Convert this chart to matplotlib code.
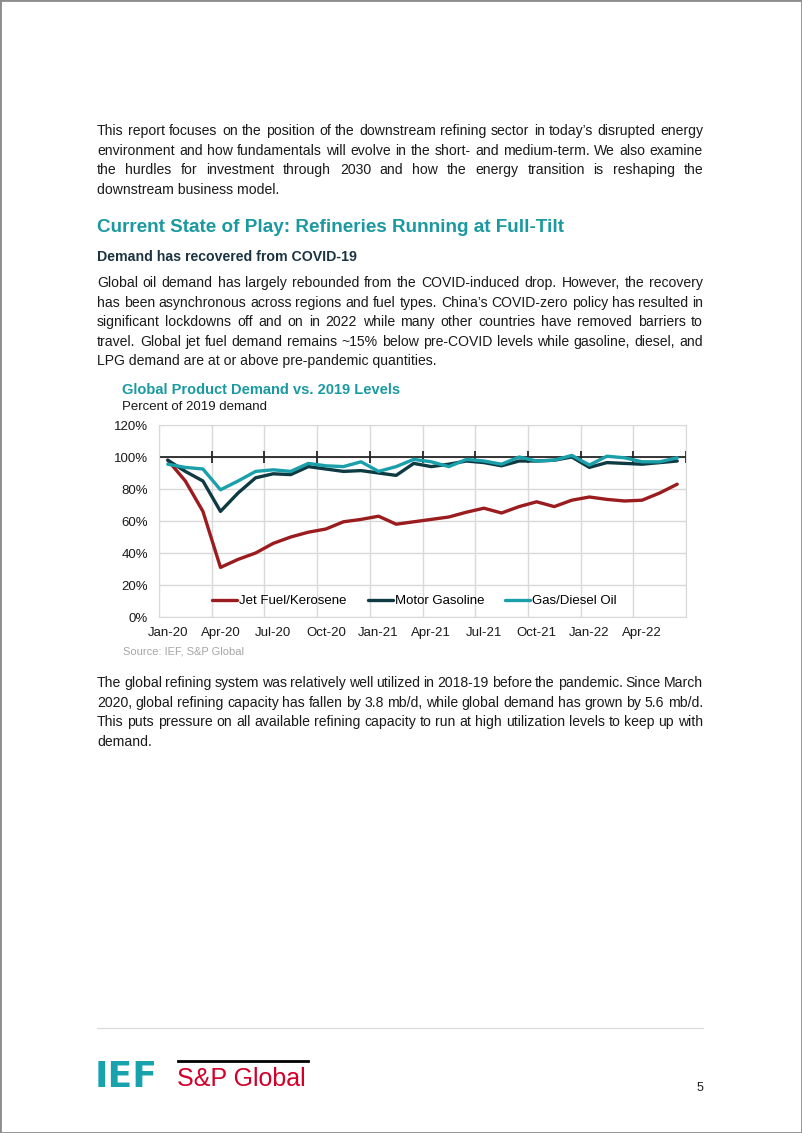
import matplotlib
matplotlib.use('Agg')
import matplotlib.pyplot as plt
import numpy as np
from matplotlib.lines import Line2D
from matplotlib.patches import Rectangle

W, H = 802, 1133
plt.rcParams['font.family'] = ['Liberation Sans', 'DejaVu Sans']

# monthly data, Jan-20 .. Jun-22 (percent of 2019 demand)
months = ['Jan-20', 'Feb-20', 'Mar-20', 'Apr-20', 'May-20', 'Jun-20',
          'Jul-20', 'Aug-20', 'Sep-20', 'Oct-20', 'Nov-20', 'Dec-20',
          'Jan-21', 'Feb-21', 'Mar-21', 'Apr-21', 'May-21', 'Jun-21',
          'Jul-21', 'Aug-21', 'Sep-21', 'Oct-21', 'Nov-21', 'Dec-21',
          'Jan-22', 'Feb-22', 'Mar-22', 'Apr-22', 'May-22', 'Jun-22']
jet = [98, 85, 66, 31, 36, 40, 46, 50, 53, 55, 59.5, 61, 63, 58, 59.5,
       61, 62.5, 65.5, 68, 65, 69, 72, 69, 73, 75, 73.5, 72.5, 73, 77.5, 83]
gasoline = [98, 91, 85, 66, 77.5, 87, 89.5, 89, 94, 92.5, 91, 91.5, 90, 88.5,
            96, 94, 95.5, 97.5, 96.5, 94.5, 97.5, 97.5, 98, 100, 93.5, 96.5,
            96, 95.5, 96.5, 97.5]
diesel = [95.5, 93.5, 92.5, 79.5, 85, 91, 92, 91, 96, 94.5, 94, 97, 91, 94,
          98.5, 97, 94, 98.5, 97.5, 95.5, 100, 97.5, 98, 101, 95, 100.5, 99.5,
          97, 97, 99.5]
series_names = ['Jet Fuel/Kerosene', 'Motor Gasoline', 'Gas/Diesel Oil']
series_colors = ['#9B1C1F', '#0E3A42', '#1AA0AB']

para1 = ["This report focuses on the position of the downstream refining sector in today\u2019s disrupted energy",
         "environment and how fundamentals will evolve in the short- and medium-term. We also examine",
         "the hurdles for investment through 2030 and how the energy transition is reshaping the",
         "downstream business model."]
para2 = ["Global oil demand has largely rebounded from the COVID-induced drop. However, the recovery",
         "has been asynchronous across regions and fuel types. China\u2019s COVID-zero policy has resulted in",
         "significant lockdowns off and on in 2022 while many other countries have removed barriers to",
         "travel. Global jet fuel demand remains ~15% below pre-COVID levels while gasoline, diesel, and",
         "LPG demand are at or above pre-pandemic quantities."]
para3 = ["The global refining system was relatively well utilized in 2018-19 before the pandemic. Since March",
         "2020, global refining capacity has fallen by 3.8 mb/d, while global demand has grown by 5.6 mb/d.",
         "This puts pressure on all available refining capacity to run at high utilization levels to keep up with",
         "demand."]

fig = plt.figure(figsize=(W / 100, H / 100), dpi=100)
renderer = fig.canvas.get_renderer()


def fx(x):
    return x / W


def fy(y):
    return 1 - y / H


BODY = 10.1
TXT = '#1a1a1a'


def justify(lines, y0, step=19.6, left=97, right=703):
    for i, line in enumerate(lines):
        y = fy(y0 + i * step)
        if i == len(lines) - 1:
            fig.text(fx(left), y, line, fontsize=BODY, color=TXT, va='center')
            continue
        words = line.split(' ')
        widths = []
        for w in words:
            t = fig.text(0, 0, w, fontsize=BODY)
            widths.append(t.get_window_extent(renderer).width)
            t.remove()
        gap = (right - left - sum(widths)) / (len(words) - 1)
        x = left
        for w, wd in zip(words, widths):
            fig.text(fx(x), y, w, fontsize=BODY, color=TXT, va='center')
            x += wd + gap


justify(para1, 131)
fig.text(fx(97), fy(227), 'Current State of Play: Refineries Running at Full-Tilt',
         fontsize=13.6, weight='bold', color='#1A9AA0', va='center')
fig.text(fx(97), fy(257), 'Demand has recovered from COVID-19',
         fontsize=10.2, weight='bold', color='#1C3441', va='center')
justify(para2, 283)
justify(para3, 683)

# chart
fig.text(fx(122), fy(390), 'Global Product Demand vs. 2019 Levels',
         fontsize=10.5, weight='bold', color='#1A9AA0', va='center')
fig.text(fx(122), fy(407), 'Percent of 2019 demand', fontsize=9.5, color=TXT, va='center')
fig.text(fx(123), fy(652), 'Source: IEF, S&P Global', fontsize=8, color='#A6A6A6', va='center')

ax = fig.add_axes([fx(159), fy(617), (686 - 159) / W, (617 - 425) / H])
x = np.arange(len(months))
bounds = np.arange(-0.5, len(months), 3)
ax.axhline(100, color='#262626', lw=1.3, zorder=2)
ax.plot(bounds, [100] * len(bounds), ls='none', marker='|', ms=8, mew=1.3,
        color='#262626', zorder=2)
for vals, name, c in zip([jet, gasoline, diesel], series_names, series_colors):
    ax.plot(x, vals, color=c, lw=2.4, label=name, zorder=3,
            solid_joinstyle='round', solid_capstyle='round')
ax.set_xlim(-0.5, len(months) - 0.5)
ax.set_ylim(0, 120)
ax.set_yticks(range(0, 121, 20))
ax.set_yticklabels([f'{v}%' for v in range(0, 121, 20)])
ax.set_xticks(x[::3])
ax.set_xticklabels(months[::3])
ax.set_xticks(bounds, minor=True)
ax.grid(axis='y', which='major', color='#D9D9D9', lw=1)
ax.grid(axis='x', which='minor', color='#D9D9D9', lw=1)
ax.tick_params(which='both', length=0, labelsize=9.5, colors=TXT)
ax.tick_params(axis='x', pad=7)
ax.tick_params(axis='y', pad=8)
for s in ax.spines.values():
    s.set_color('#D9D9D9')
ax.set_axisbelow(True)
ax.legend(loc='center', bbox_to_anchor=(0.485, 16 / 192), ncol=3, frameon=False,
          fontsize=9.5, handlelength=1.9, handletextpad=0.15, columnspacing=1.6,
          borderpad=0)

# footer
fig.add_artist(Line2D([fx(97), fx(703)], [fy(1028), fy(1028)], color='#D9D9D9', lw=0.8))
fig.text(fx(95), fy(1087), 'IEF', fontsize=26, weight='bold', color='#17A2AE',
         va='baseline', family='DejaVu Sans')
fig.add_artist(Line2D([fx(178), fx(308)], [fy(1061), fy(1061)], color='black', lw=2))
fig.text(fx(177), fy(1086), 'S&P Global', fontsize=18, color='#D2002A', va='baseline')
fig.text(fx(703), fy(1091), '5', fontsize=9, color=TXT, ha='right', va='baseline')
fig.add_artist(Rectangle((0, 0), 1, 1, transform=fig.transFigure, fill=False,
                         edgecolor='#8C8C8C', lw=2))

fig.savefig('out.png', dpi=100)
